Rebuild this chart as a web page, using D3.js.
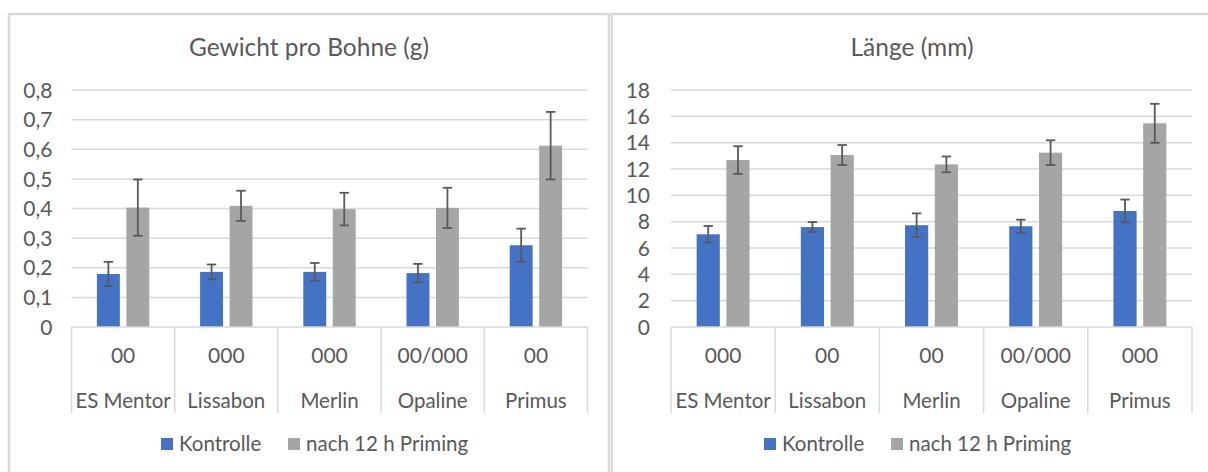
<!DOCTYPE html>
<html>
<head>
<meta charset="utf-8">
<script src="https://cdn.jsdelivr.net/npm/d3@7"></script>
<style>
  html, body { margin: 0; padding: 0; background: #ffffff; }
  svg { display: block; }
  text { font-family: Lato, "Open Sans", sans-serif; fill: #595959; }
</style>
</head>
<body>
<script>
// ---------- data ----------
const categories = ["ES Mentor", "Lissabon", "Merlin", "Opaline", "Primus"];
const weightGroups = ["00", "000", "000", "00/000", "00"];
const lengthGroups = ["000", "00", "00", "00/000", "000"];
const seriesNames = ["Kontrolle", "nach 12 h Priming"];
const seriesColors = ["#4472C4", "#A5A5A5"];

const weightKontrolle    = [0.179, 0.186, 0.186, 0.182, 0.276];
const weightKontrolleErr = [0.041, 0.025, 0.030, 0.031, 0.056];
const weightPriming      = [0.403, 0.409, 0.398, 0.402, 0.612];
const weightPrimingErr   = [0.095, 0.051, 0.055, 0.068, 0.114];
const weightTicks = [0, 0.1, 0.2, 0.3, 0.4, 0.5, 0.6, 0.7, 0.8];

const lengthKontrolle    = [7.04, 7.59, 7.73, 7.65, 8.81];
const lengthKontrolleErr = [0.63, 0.38, 0.90, 0.50, 0.87];
const lengthPriming      = [12.68, 13.06, 12.35, 13.24, 15.47];
const lengthPrimingErr   = [1.05, 0.76, 0.60, 0.94, 1.48];
const lengthTicks = [0, 2, 4, 6, 8, 10, 12, 14, 16, 18];

const W = 1208, H = 472;
const svg = d3.select("body").append("svg").attr("width", W).attr("height", H);
svg.append("rect").attr("width", W).attr("height", H).attr("fill", "#fff");

const fmtComma = v => d3.format("")(v).replace(".", ",");

function drawChart(opt) {
  const g = svg.append("g").attr("transform", `translate(${opt.x},0)`);
  // chart border
  g.append("rect").attr("x", 0).attr("y", 14).attr("width", opt.w).attr("height", H)
    .attr("fill", "none").attr("stroke", "#d9d9d9").attr("stroke-width", 2.5);

  // title
  g.append("text").attr("x", opt.w / 2).attr("y", 56).attr("text-anchor", "middle")
    .style("font-size", "24.5px").text(opt.title);

  const x = d3.scaleBand().domain(categories).range([opt.pl, opt.pr]).paddingInner(0).paddingOuter(0);
  const y = d3.scaleLinear().domain([0, d3.max(opt.ticks)]).range([327, 90]);

  // gridlines
  g.append("g").selectAll("line").data(opt.ticks.filter(t => t > 0)).join("line")
    .attr("x1", opt.pl).attr("x2", opt.pr)
    .attr("y1", d => y(d)).attr("y2", d => y(d))
    .attr("stroke", "#d9d9d9").attr("stroke-width", 1.5);

  // y axis labels
  const yAxis = d3.axisLeft(y).tickValues(opt.ticks).tickSize(0).tickPadding(0).tickFormat(opt.fmt);
  const ya = g.append("g").attr("transform", `translate(${opt.pl - opt.lp},0)`).call(yAxis);
  ya.select(".domain").remove();
  ya.selectAll("text").style("font-size", "21px").attr("fill", "#595959")
    .style("font-family", "Lato, 'Open Sans', sans-serif").attr("dy", "0.34em");

  // bars
  const bw = x.bandwidth();
  const barW = bw / 4.5;
  const gap = barW * 0.285;
  const x1 = d3.scaleBand().domain(seriesNames)
    .range([bw / 2 - barW - gap / 2, bw / 2 + barW + gap / 2])
    .paddingInner(gap / (barW + gap)).paddingOuter(0);

  const rows = categories.map((c, i) => ({c, i}));
  seriesNames.forEach((s, si) => {
    const vals = opt.values[si], errs = opt.errors[si];
    const gs = g.append("g");
    gs.selectAll("rect").data(rows).join("rect")
      .attr("x", d => x(d.c) + x1(s))
      .attr("width", x1.bandwidth())
      .attr("y", d => y(vals[d.i]))
      .attr("height", d => y(0) - y(vals[d.i]))
      .attr("fill", seriesColors[si]);
    const ge = g.append("g").attr("stroke", "#595959").attr("stroke-width", 1.8);
    const cx = d => x(d.c) + x1(s) + x1.bandwidth() / 2;
    ge.selectAll("line.v").data(rows).join("line").attr("class", "v")
      .attr("x1", cx).attr("x2", cx)
      .attr("y1", d => y(vals[d.i] + errs[d.i])).attr("y2", d => y(vals[d.i] - errs[d.i]));
    ge.selectAll("line.t").data(rows).join("line").attr("class", "t")
      .attr("x1", d => cx(d) - 4.7).attr("x2", d => cx(d) + 4.7)
      .attr("y1", d => y(vals[d.i] + errs[d.i])).attr("y2", d => y(vals[d.i] + errs[d.i]));
    ge.selectAll("line.b").data(rows).join("line").attr("class", "b")
      .attr("x1", d => cx(d) - 4.7).attr("x2", d => cx(d) + 4.7)
      .attr("y1", d => y(vals[d.i] - errs[d.i])).attr("y2", d => y(vals[d.i] - errs[d.i]));
  });

  // category axis
  g.append("line").attr("x1", opt.pl).attr("x2", opt.pr).attr("y1", y(0)).attr("y2", y(0))
    .attr("stroke", "#d9d9d9").attr("stroke-width", 1.5);
  const bounds = categories.map(c => x(c)).concat([opt.pr]);
  g.append("g").selectAll("line").data(bounds).join("line")
    .attr("x1", d => d).attr("x2", d => d).attr("y1", y(0)).attr("y2", 413)
    .attr("stroke", "#d9d9d9").attr("stroke-width", 1.5);
  g.append("g").selectAll("text").data(rows).join("text")
    .attr("x", d => x(d.c) + bw / 2).attr("y", 363).attr("text-anchor", "middle")
    .style("font-size", "21px").text(d => opt.groups[d.i]);
  g.append("g").selectAll("text").data(rows).join("text")
    .attr("x", d => x(d.c) + bw / 2).attr("y", 407.5).attr("text-anchor", "middle")
    .style("font-size", "20.5px").text(d => d.c);

  // legend
  const lx = [152, 279];
  seriesNames.forEach((s, si) => {
    g.append("rect").attr("x", lx[si]).attr("y", 438).attr("width", 12).attr("height", 12)
      .attr("fill", seriesColors[si]);
    g.append("text").attr("x", lx[si] + 18).attr("y", 444).attr("dy", "0.35em")
      .style("font-size", "20.5px").text(s);
  });
}

drawChart({
  x: 9, w: 600, pl: 71.5 - 9, pr: 587.5 - 9, lp: 19,
  title: "Gewicht pro Bohne (g)", ticks: weightTicks, fmt: fmtComma,
  groups: weightGroups,
  values: [weightKontrolle, weightPriming], errors: [weightKontrolleErr, weightPrimingErr]
});
drawChart({
  x: 612, w: 600, pl: 671 - 612, pr: 1192 - 612, lp: 21,
  title: "Länge (mm)", ticks: lengthTicks, fmt: d3.format("d"),
  groups: lengthGroups,
  values: [lengthKontrolle, lengthPriming], errors: [lengthKontrolleErr, lengthPrimingErr]
});
</script>
</body>
</html>
